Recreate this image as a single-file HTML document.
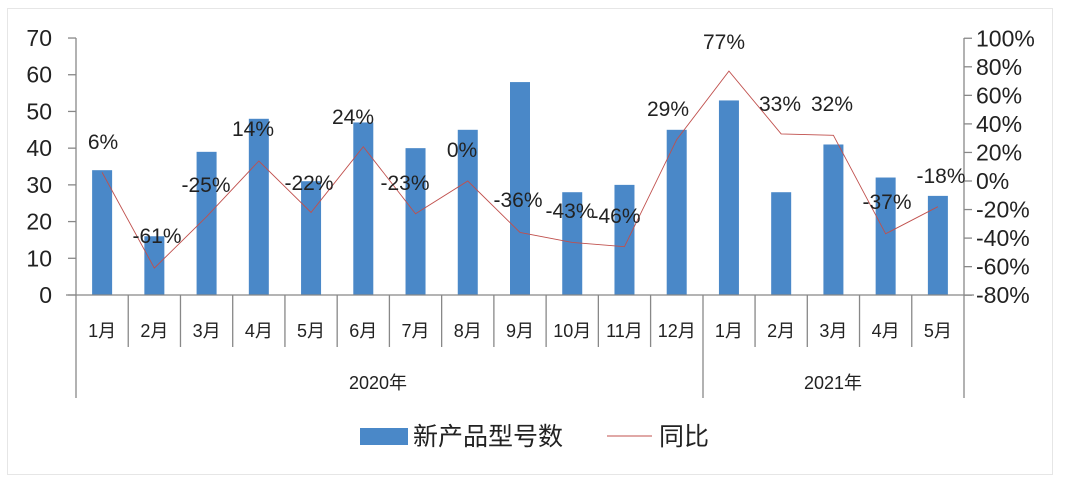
<!DOCTYPE html>
<html><head><meta charset="utf-8"><style>
body{margin:0;background:#fff;}
svg{display:block;font-family:"Liberation Sans","Noto Sans CJK SC",sans-serif;}
</style></head><body>
<svg width="1080" height="486" viewBox="0 0 1080 486">
<rect x="7.5" y="8.5" width="1045" height="466" fill="#fff" stroke="#e6e6e6"/>
<g fill="#4a88c8" id="bars"></g>
<g stroke="#888" stroke-width="1.3" fill="none">
<line x1="76" y1="38" x2="76" y2="398"/>
<line x1="964" y1="38" x2="964" y2="398"/>
<line x1="703" y1="295" x2="703" y2="398"/>
<line x1="66" y1="295" x2="974" y2="295"/>
</g>
<g id="ticks" stroke="#888" stroke-width="1.3"></g>
<g id="txt" fill="#222"></g>
<polyline id="ln" fill="none" stroke="#c0504d" stroke-width="0.9"/>
<g id="lab" fill="#222" font-size="21" text-anchor="middle"></g>
<rect x="360" y="428" width="48" height="17" fill="#4a88c8"/>
<text x="413" y="445" font-size="25" fill="#222">新产品型号数</text>
<line x1="607" y1="436" x2="652" y2="436" stroke="#c0504d" stroke-width="1"/>
<text x="659" y="445" font-size="25" fill="#222">同比</text>
</svg>
<script>
const ns="http://www.w3.org/2000/svg";
function el(p,t,a,txt){const e=document.createElementNS(ns,t);for(const k in a)e.setAttribute(k,a[k]);if(txt!=null)e.textContent=txt;document.getElementById(p).appendChild(e);}
const v=[34,16,39,48,31,47,40,45,58,28,30,45,53,28,41,32,27];
const p=[6,-61,-25,14,-22,24,-23,0,-36,-43,-46,29,77,33,32,-37,-18];
const m=["1月","2月","3月","4月","5月","6月","7月","8月","9月","10月","11月","12月","1月","2月","3月","4月","5月"];
const w=(964-76)/17;
const yL=x=>295-x*3.671, yR=x=>181-x*1.4275;
let pts=[];
v.forEach((val,i)=>{const cx=76+w*(i+0.5);
el("bars","rect",{x:cx-10,y:yL(val),width:20,height:295-yL(val)});
el("txt","text",{x:cx,y:337,"font-size":18,"text-anchor":"middle"},m[i]);
if(i>0&&i!=12)el("ticks","line",{x1:76+w*i,y1:295,x2:76+w*i,y2:347});
pts.push(cx+","+yR(p[i]).toFixed(1));});
document.getElementById("ln").setAttribute("points",pts.join(" "));
for(let k=0;k<=70;k+=10){el("ticks","line",{x1:68,y1:yL(k),x2:76,y2:yL(k)});el("txt","text",{x:52,y:yL(k)+8,"font-size":23,"text-anchor":"end"},k);}
for(let k=-80;k<=100;k+=20){el("ticks","line",{x1:964,y1:yR(k),x2:972,y2:yR(k)});el("txt","text",{x:976,y:yR(k)+8,"font-size":23},k+"%");}
el("txt","text",{x:378,y:389,"font-size":18,"text-anchor":"middle"},"2020年");
el("txt","text",{x:833,y:389,"font-size":18,"text-anchor":"middle"},"2021年");
const L=[[103,142],[157,236],[206,185],[253,129],[309,183],[353,117],[405,183],[462,150],[518,200],[570,211],[616,216],[668,109],[724,42],[780,104],[832,104],[887,202],[941,176]];
L.forEach((q,i)=>el("lab","text",{x:q[0],y:q[1]+7},p[i]+"%"));
</script>
</body></html>
